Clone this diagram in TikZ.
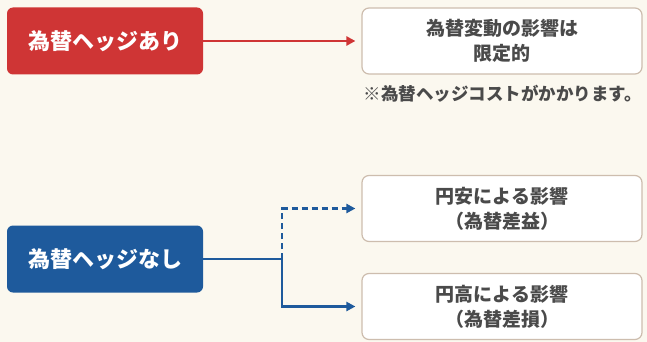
\documentclass[tikz,border=0pt]{standalone}
\usepackage{fontspec}
\setmainfont{Noto Sans CJK JP}
\usetikzlibrary{arrows.meta}
\definecolor{bgc}{HTML}{FBF8EF}
\definecolor{redc}{HTML}{CF3535}
\definecolor{bluec}{HTML}{1E5A9C}
\definecolor{edgec}{HTML}{CDBDAE}
\definecolor{txtc}{HTML}{4A4A4A}
\tikzset{
  leftbox/.style={rounded corners=6pt, minimum width=196pt, minimum height=67pt, inner sep=0pt,
    text=white, font=\bfseries\fontsize{22}{26}\selectfont},
  rightbox/.style={draw=edgec, line width=1.2pt, fill=white, rounded corners=7pt,
    minimum width=280pt, minimum height=66pt, inner sep=0pt, align=center,
    text=txtc, font=\bfseries\fontsize{19}{25}\selectfont},
  conn/.style={line width=2.4pt, -{Triangle[length=9pt,width=9pt]}, shorten >=6pt},
}
\begin{document}
\begin{tikzpicture}[x=1pt,y=-1pt]
\fill[bgc] (0,0) rectangle (647,342);
\useasboundingbox (0,0) rectangle (647,342);
\node[leftbox, fill=redc] (hedge) at (105,41) {為替ヘッジあり};
\node[rightbox] (limited) at (502,41) {為替変動の影響は\\限定的};
\node[text=txtc, font=\bfseries\fontsize{17.5}{20}\selectfont] (note) at (503,94) {※為替ヘッジコストがかかります。};
\node[leftbox, fill=bluec] (nohedge) at (105,259) {為替ヘッジなし};
\node[rightbox] (gain) at (502,208.5) {円安による影響\\（為替差益）};
\node[rightbox] (loss) at (502,306.5) {円高による影響\\（為替差損）};
\coordinate (j) at (282,259);
\draw[conn, draw=redc, fill=redc] (hedge.east) -- (limited.west);
\draw[line width=2.4pt, bluec] (nohedge.east) -- (j);
\draw[conn, bluec, dash pattern=on 6pt off 4pt] (j) |- (gain.west);
\draw[conn, bluec] (j) |- (loss.west);
\end{tikzpicture}
\end{document}
